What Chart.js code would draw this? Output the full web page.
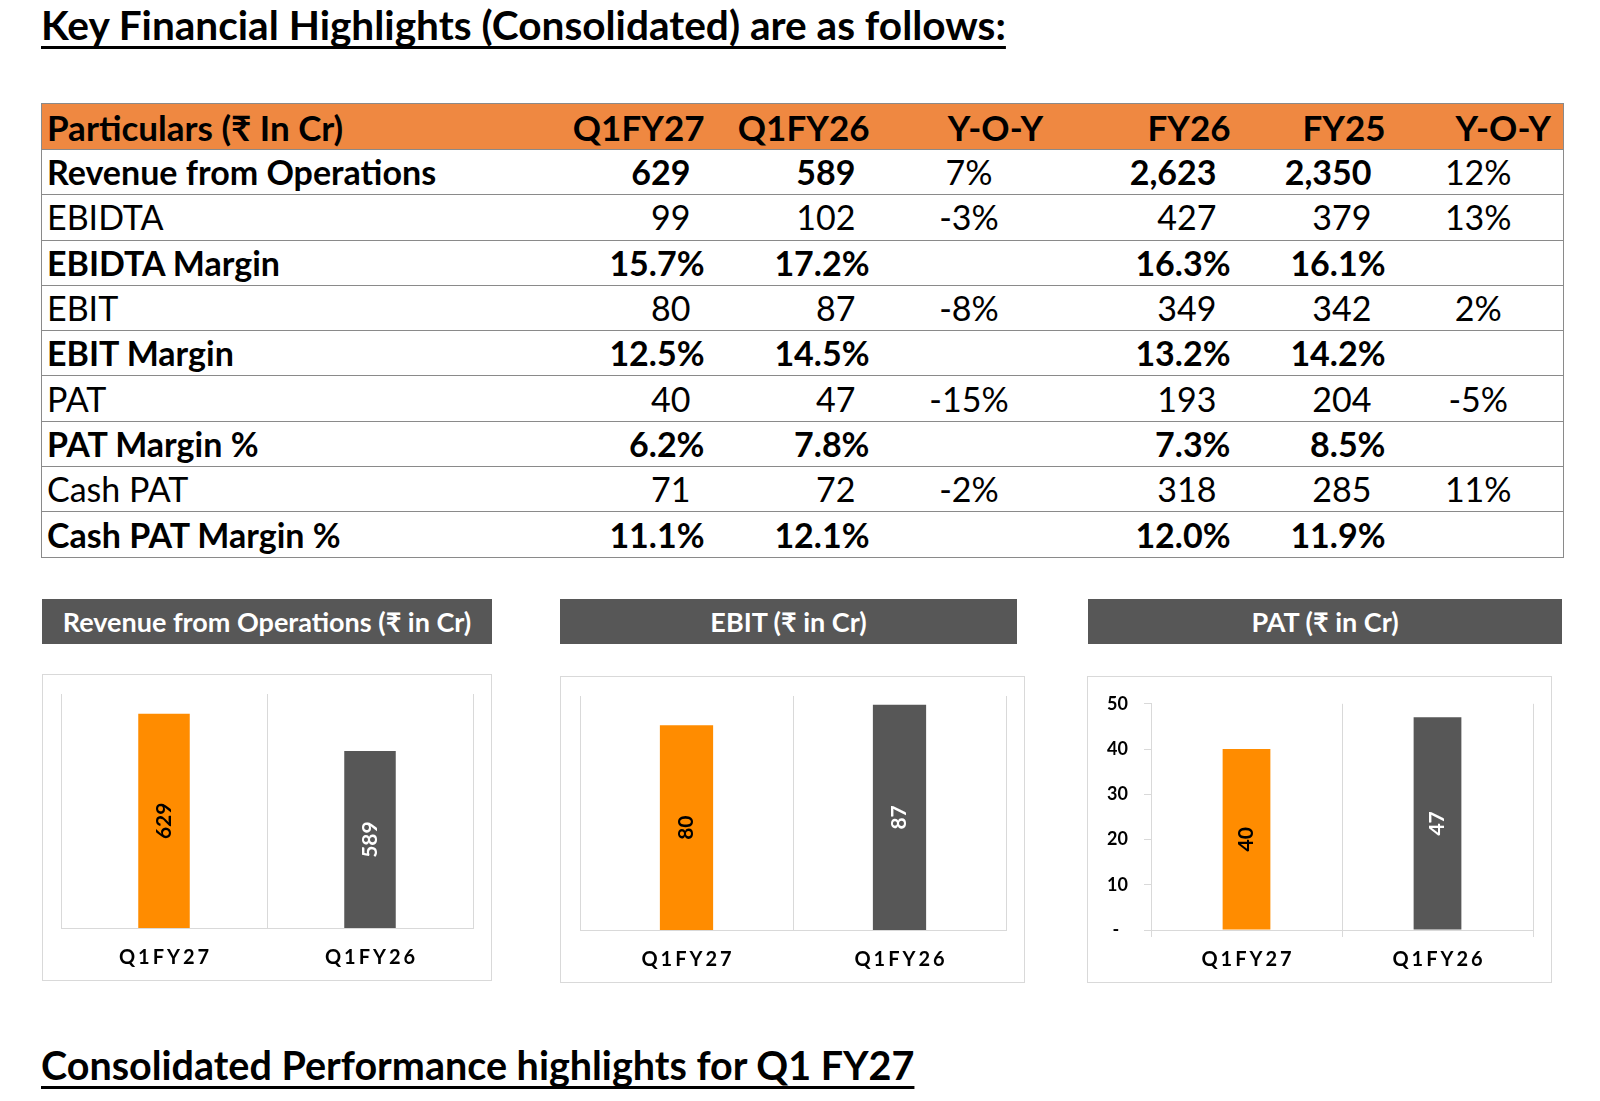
<!DOCTYPE html>
<html>
<head>
<meta charset="utf-8">
<script src="https://cdn.jsdelivr.net/npm/chart.js@4/dist/chart.umd.min.js"></script>
<style>
  body { margin: 0; width: 1600px; height: 1101px; background: #fff; font-family: Lato, "Noto Sans", sans-serif; position: relative; overflow: hidden; color: #000; }
  .heading { position: absolute; left: 41px; font-weight: 700; font-size: 40px; white-space: nowrap;
             text-decoration: underline; text-decoration-thickness: 3px; text-underline-offset: 6px; text-decoration-skip-ink: none; }
  #fin { position: absolute; left: 41px; top: 103px; width: 1522px; border-collapse: collapse; table-layout: fixed; }
  #fin td { border-top: 1.5px solid #8a8a8a; border-bottom: 1.5px solid #8a8a8a; height: 44.3px; padding: 0 8px; font-size: 34px; white-space: nowrap; line-height: 40px; }
  #fin tr:first-child td { background: #EF8841; font-weight: 700; height: 45px; font-size: 35px; }
  #fin td:first-child { border-left: 1.5px solid #8a8a8a; padding-left: 5px; }
  #fin td:last-child { border-right: 1.5px solid #8a8a8a; }
  #fin tr.b td { font-weight: 700; }
  #fin td.n { padding-right: 22px; }
  .bar { position: absolute; top: 599px; height: 45px; line-height: 45px; background: #575757; color: #fff; font-weight: 700; font-size: 27px; text-align: center; white-space: nowrap; }
  .box { position: absolute; border: 1px solid #d9d9d9; box-sizing: border-box; height: 307px; }
  .box div { position: relative; width: 100%; height: 100%; }
</style>
</head>
<body>
<div class="heading" style="top:0px;font-size:40.6px">Key Financial Highlights (Consolidated) are as follows:</div>

<table id="fin"></table>

<div class="bar" style="left:42px;width:450px">Revenue from Operations (₹ in Cr)</div>
<div class="bar" style="left:560px;width:457px">EBIT (₹ in Cr)</div>
<div class="bar" style="left:1088px;width:474px">PAT (₹ in Cr)</div>

<div class="box" style="left:42px;top:674px;width:450px"><div><canvas id="rev"></canvas></div></div>
<div class="box" style="left:560px;top:676px;width:465px"><div><canvas id="ebit"></canvas></div></div>
<div class="box" style="left:1087px;top:676px;width:465px"><div><canvas id="pat"></canvas></div></div>

<div class="heading" style="top:1041px;font-size:39.5px">Consolidated Performance highlights for Q1 FY27</div>

<script>
// table
const tableHead = ["Particulars (₹ In Cr)", "Q1FY27", "Q1FY26", "Y-O-Y", "FY26", "FY25", "Y-O-Y"];
const rowLabels = ["Revenue from Operations", "EBIDTA", "EBIDTA Margin", "EBIT", "EBIT Margin", "PAT", "PAT Margin %", "Cash PAT", "Cash PAT Margin %"];
const boldRows = [true, false, true, false, true, false, true, false, true];
const q1fy27 = ["629", "99", "15.7%", "80", "12.5%", "40", "6.2%", "71", "11.1%"];
const q1fy26 = ["589", "102", "17.2%", "87", "14.5%", "47", "7.8%", "72", "12.1%"];
const yoyQ = ["7%", "-3%", "", "-8%", "", "-15%", "", "-2%", ""];
const fy26 = ["2,623", "427", "16.3%", "349", "13.2%", "193", "7.3%", "318", "12.0%"];
const fy25 = ["2,350", "379", "16.1%", "342", "14.2%", "204", "8.5%", "285", "11.9%"];
const yoyFY = ["12%", "13%", "", "2%", "", "-5%", "", "11%", ""];

// charts
const categories = ["Q1FY27", "Q1FY26"];
const revenue = [629, 589];
const ebit = [80, 87];
const pat = [40, 47];
const barColors = ["#FF8C00", "#575757"];
const labelColors = ["#000000", "#FFFFFF"];

const colW = [519, 152, 165, 183, 178, 155, 170];
const colAlign = ["left", "right", "right", "center", "right", "right", "center"];
const headPad = ["", "", "", "padding-left:61px", "", "", "padding-left:58px"];

let html = "<colgroup>" + colW.map(w => `<col style="width:${w}px">`).join("") + "</colgroup>";
html += "<tr>" + tableHead.map((t, i) => `<td style="text-align:${colAlign[i]};${headPad[i]}">${t}</td>`).join("") + "</tr>";
rowLabels.forEach((lab, r) => {
  const cells = [lab, q1fy27[r], q1fy26[r], yoyQ[r], fy26[r], fy25[r], yoyFY[r]];
  html += `<tr class="${boldRows[r] ? "b" : ""}">` + cells.map((c, i) => {
    const w = (i === 3 || i === 6) ? "font-weight:400;" : "";
    const cls = (colAlign[i] === "right" && c.indexOf("%") < 0) ? "n" : "";
    return `<td class="${cls}" style="text-align:${colAlign[i]};${w}">${c}</td>`;
  }).join("") + "</tr>";
});
document.getElementById("fin").innerHTML = html;

const barText = {
  id: "barText",
  afterDatasetsDraw(chart) {
    const ctx = chart.ctx;
    const meta = chart.getDatasetMeta(0);
    const bottom = chart.chartArea.bottom;
    meta.data.forEach((bar, i) => {
      ctx.save();
      ctx.translate(bar.x, (bar.y + Math.min(bar.base, bottom)) / 2);
      ctx.rotate(-Math.PI / 2);
      ctx.font = "bold 21px Lato";
      ctx.textAlign = "center";
      ctx.textBaseline = "middle";
      ctx.fillStyle = labelColors[i];
      ctx.fillText(String(chart.data.datasets[0].data[i]), 0, 0);
      ctx.restore();
    });
  },
  afterDraw(chart) {
    const ctx = chart.ctx;
    const xs = chart.scales.x;
    ctx.save();
    ctx.font = "bold 20px Lato";
    ctx.letterSpacing = "3px";
    ctx.textAlign = "center";
    ctx.textBaseline = "middle";
    ctx.fillStyle = "#000";
    categories.forEach((c, i) => ctx.fillText(c, xs.getPixelForValue(i) + 1.5, chart.chartArea.bottom + 30));
    ctx.restore();
  }
};

function makeChart(id, values, yOpts, pad, xTicks) {
  return new Chart(document.getElementById(id), {
    type: "bar",
    data: {
      labels: categories,
      datasets: [{ data: values, backgroundColor: barColors, barPercentage: 0.25, categoryPercentage: 1 }]
    },
    options: {
      responsive: true,
      maintainAspectRatio: false,
      animation: false,
      layout: { padding: pad },
      plugins: { legend: { display: false }, tooltip: { enabled: false } },
      scales: {
        x: {
          grid: { color: "#d9d9d9", offset: true, drawTicks: xTicks, tickLength: 7 },
          border: { color: "#d9d9d9" },
          ticks: { display: false }
        },
        y: yOpts
      }
    },
    plugins: [barText]
  });
}

makeChart("rev", revenue, { display: false, min: 400, max: 650 }, { left: 18, right: 18, top: 19, bottom: 52 }, false);
makeChart("ebit", ebit, { display: false, min: 10, max: 90 }, { left: 19, right: 18, top: 19, bottom: 52 }, false);
makeChart("pat", pat, {
  min: 0, max: 50,
  ticks: { stepSize: 10, padding: 16, color: "#000", font: { family: "Lato", weight: "bold", size: 18 },
           callback: v => v === 0 ? "-  " : v },
  grid: { drawOnChartArea: false, drawTicks: true, tickLength: 7, color: "#d9d9d9" },
  border: { color: "#d9d9d9" },
  afterFit: s => { s.width = 63; }
}, { left: 0, right: 18, top: 20, bottom: 45 }, true);
</script>
</body>
</html>
